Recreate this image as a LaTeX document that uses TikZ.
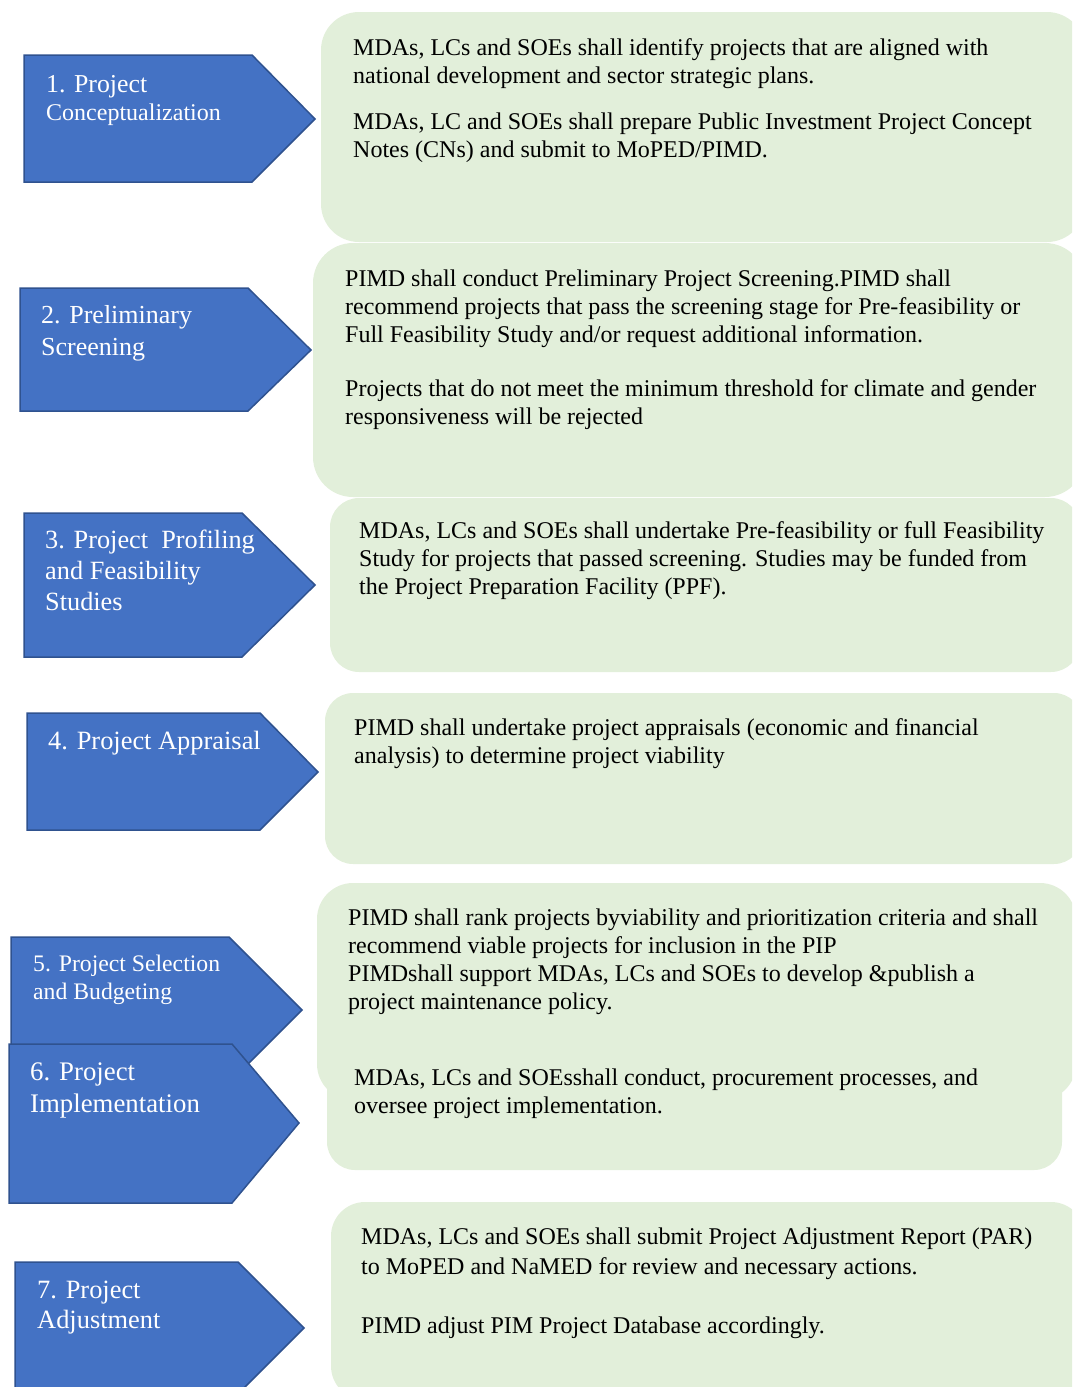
\documentclass[tikz,border=0pt]{standalone}
\usepackage{fontspec}
\setmainfont{Liberation Serif}
\definecolor{blueA}{HTML}{4472C4}
\definecolor{blueB}{HTML}{2F528F}
\definecolor{greenA}{HTML}{E2EFDA}
\begin{document}
\begin{tikzpicture}[x=1pt,y=-1pt,
  stepshape/.style={fill=blueA,draw=blueB,line width=1.5pt,line join=miter},
  notebox/.style={fill=greenA,draw=none},
  bodytext/.style={anchor=north west,inner sep=0pt,align=left,font=\fontsize{24}{28}\selectfont},
  steptext/.style={anchor=north west,inner sep=0pt,align=left,text=white,font=\fontsize{26}{32}\selectfont},
  stepline/.style={anchor=base west,inner sep=0pt,text=white}]
\useasboundingbox (0,0) rectangle (1072,1387);
\clip (0,0) rectangle (1072,1387);
% green note boxes
\fill[notebox,rounded corners=38pt] (321,12) rectangle (1085,242);
\fill[notebox,rounded corners=40pt] (313,243) rectangle (1085,497);
\fill[notebox,rounded corners=29pt] (330,498) rectangle (1080,672);
\fill[notebox,rounded corners=28pt] (325,693) rectangle (1082,864);
\fill[notebox,rounded corners=28pt] (327,1000) rectangle (1062,1170);
\fill[notebox,rounded corners=36pt] (317,883) rectangle (1076,1100);
\fill[notebox,rounded corners=34pt] (331,1202) rectangle (1085,1400);
% blue step arrows
\draw[stepshape] (24,55) -- (252,55) -- (315,119) -- (252,182) -- (24,182) -- cycle;
\draw[stepshape] (20,288) -- (248,288) -- (311,350) -- (248,411) -- (20,411) -- cycle;
\draw[stepshape] (24,513) -- (242,513) -- (315,585) -- (242,657) -- (24,657) -- cycle;
\draw[stepshape] (27,713) -- (260,713) -- (318,772) -- (260,830) -- (27,830) -- cycle;
\draw[stepshape] (11,937) -- (229,937) -- (302,1010) -- (229,1083) -- (11,1083) -- cycle;
\draw[stepshape] (9,1044) -- (232,1044) -- (299,1123) -- (232,1203) -- (9,1203) -- cycle;
\draw[stepshape] (15,1262) -- (238,1262) -- (304,1328) -- (238,1394) -- (15,1394) -- cycle;
% step labels
\node[stepline,font=\fontsize{25.8}{30}\selectfont] (s1a) at (46,92) {1. Project};
\node[stepline,font=\fontsize{24}{30}\selectfont] (s1b) at (46,120) {Conceptualization};
\node[steptext] (s2) at (41,300.6) {\strut 2. Preliminary\\Screening};
\node[steptext,font=\fontsize{26.3}{31}\selectfont] (s3) at (45,526.3) {\strut 3. Project\ \ Profiling\\and Feasibility\\Studies};
\node[steptext,font=\fontsize{26.4}{32}\selectfont] (s4) at (48,726.6) {\strut 4. Project Appraisal};
\node[steptext,font=\fontsize{23.7}{28}\selectfont] (s5) at (33,951.4) {\strut 5. Project Selection\\and Budgeting};
\node[steptext,font=\fontsize{26.8}{32}\selectfont] (s6) at (30,1057.6) {\strut 6. Project\\Implementation};
\node[steptext,font=\fontsize{26.4}{30}\selectfont] (s7) at (37,1277) {\strut 7. Project\\Adjustment};
% note texts
\node[bodytext] (n1a) at (353,35.4) {\strut MDAs, LCs and SOEs shall identify projects that are aligned with\\national development and sector strategic plans.};
\node[bodytext] (n1b) at (353,109.4) {\strut MDAs, LC and SOEs shall prepare Public Investment Project Concept\\Notes (CNs) and submit to MoPED/PIMD.};
\node[bodytext] (n2a) at (345,266.4) {\strut PIMD shall conduct Preliminary Project Screening.PIMD shall\\recommend projects that pass the screening stage for Pre-feasibility or\\Full Feasibility Study and/or request additional information.};
\node[bodytext] (n2b) at (345,376.4) {\strut Projects that do not meet the minimum threshold for climate and gender\\responsiveness will be rejected};
\node[bodytext] (n3) at (359,518.4) {\strut MDAs, LCs and SOEs shall undertake Pre-feasibility or full Feasibility\\Study for projects that passed screening. Studies may be funded from\\the Project Preparation Facility (PPF).};
\node[bodytext] (n4) at (354,715.4) {\strut PIMD shall undertake project appraisals (economic and financial\\analysis) to determine project viability};
\node[bodytext] (n5) at (348,905.4) {\strut PIMD shall rank projects byviability and prioritization criteria and shall\\recommend viable projects for inclusion in the PIP\\PIMDshall support MDAs, LCs and SOEs to develop \&publish a\\project maintenance policy.};
\node[bodytext] (n6) at (354,1065.4) {\strut MDAs, LCs and SOEsshall conduct, procurement processes, and\\oversee project implementation.};
\node[bodytext,font=\fontsize{24}{30}\selectfont] (n7a) at (361,1223) {\strut MDAs, LCs and SOEs shall submit Project Adjustment Report (PAR)\\to MoPED and NaMED for review and necessary actions.};
\node[bodytext] (n7b) at (361,1313.4) {\strut PIMD adjust PIM Project Database accordingly.};
\end{tikzpicture}
\end{document}
